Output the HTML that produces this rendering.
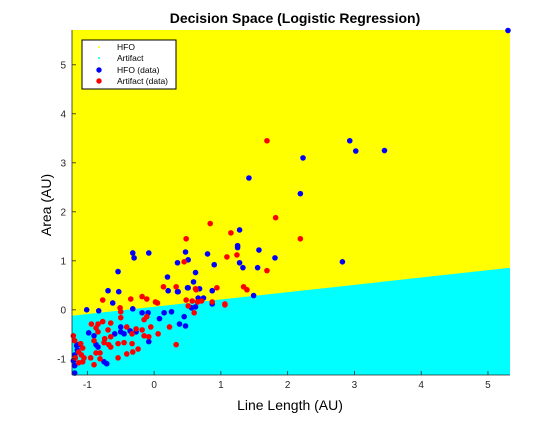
<!DOCTYPE html>
<html><head><meta charset="utf-8"><style>
body{margin:0;background:#fff;font-family:"Liberation Sans",sans-serif}
</style></head><body>
<svg id="chart" width="560" height="420" xmlns="http://www.w3.org/2000/svg">
<rect width="560" height="420" fill="#fff"/>
<text x="295" y="23" text-anchor="middle" font-size="14" font-weight="bold">Decision Space (Logistic Regression)</text>
<g id="plot"></g>
<g id="axes"></g>
<text x="290" y="410" text-anchor="middle" font-size="14">Line Length (AU)</text>
<text transform="translate(51,205) rotate(-90)" text-anchor="middle" font-size="14">Area (AU)</text>
<g>
<rect x="82" y="40" width="94" height="49" fill="#fff" stroke="#000" stroke-width="1"/>
<g><circle cx="99" cy="47" r="1" fill="#ff0"/><text x="117" y="50" font-size="8.5">HFO</text></g>
<g><circle cx="99" cy="58" r="1" fill="#0ff"/><text x="117" y="61" font-size="8.5">Artifact</text></g>
<g><circle cx="99" cy="70" r="2.7" fill="#00f"/><text x="117" y="73" font-size="8.5">HFO (data)</text></g>
<g><circle cx="99" cy="81" r="2.7" fill="#f00"/><text x="117" y="84" font-size="8.5">Artifact (data)</text></g>
</g>
</svg>
<script>
const xTicks=[-1,0,1,2,3,4,5];
const yTicks=[-1,0,1,2,3,4,5];
const xLim=[-1.23,5.33];
const yLim=[-1.33,5.71];
const boundaryIntercept=0.063;
const boundarySlope=0.149;
const hfoX=[5.3,2.93,3.02,3.45,2.23,1.42,2.19,1.28,1.25,1.25,1.57,0.47,0.8,0.51,0.35,0.9,1.28,1.33,1.55,1.81,2.82,0.62,0.59,0.5,0.68,0.35,0.87,1.49,0.66,0.74,0.87,-0.54,-0.32,-0.3,-0.08,-0.69,-0.53,-0.62,-1.01,-0.83,-0.32,-0.18,-0.09,0.08,0.15,0.26,0.38,0.47,0.45,0.56,0.62,0.2,0.21,0.36,0.51,-0.5,-0.59,-0.5,-0.36,-0.27,-0.08,-0.45,-0.98,-0.9,-0.84,-0.75,-0.71,-1.19,-1.21,-1.19,-1.19,-1.13,-1.16,-1.15,-0.87];
const hfoY=[5.7,3.45,3.24,3.25,3.1,2.69,2.37,1.63,1.31,1.27,1.22,1.18,1.14,1.02,0.96,0.92,0.96,0.86,0.86,1.06,0.98,0.76,0.57,0.45,0.43,0.37,0.39,0.29,0.24,0.24,0.12,0.78,1.16,1.06,1.16,0.39,0.37,0.14,0,-0.02,0.02,-0.06,-0.06,-0.18,-0.06,-0.04,-0.29,-0.33,-0.14,0.04,0.06,0.67,0.39,0.37,0.45,-0.35,-0.49,-0.45,-0.43,-0.45,-0.65,-0.49,-0.47,-0.53,-0.76,-1.06,-1.1,-0.92,-1.04,-1.14,-1.29,-0.71,-0.73,-0.82,-0.71];
const artX=[1.69,1.82,0.84,1.15,0.48,2.19,0.45,1.09,1.24,1.69,0.33,0.62,0.94,1.34,1.39,1.06,0.87,0.48,0.57,0.65,-0.77,-0.51,-0.5,-0.35,-0.18,-0.11,0.02,0.05,0.14,0.63,0.51,0.6,0.71,1.06,-0.94,-0.84,-0.77,-0.87,-0.84,-0.65,-0.69,-0.5,-0.41,-0.15,-0.11,-0.27,-0.18,-0.05,-0.33,-0.15,-0.08,0.06,0.23,0.33,-0.74,-0.9,-0.65,-0.68,-0.65,-0.75,-0.54,-0.45,-0.33,-0.24,-0.32,-0.41,-0.54,-0.81,-0.87,-0.95,-0.9,-0.81,-1.21,-1.19,-1.1,-1.07,-1.13,-1.09,-1.18,-1.07,-1.13,-1.05];
const artY=[3.45,1.88,1.76,1.57,1.45,1.45,0.98,1.08,1.12,0.8,0.47,0.43,0.45,0.47,0.41,0.12,0.16,0.2,0.18,0.16,0.2,0.04,-0.04,0.22,0.27,0.22,0.16,0.14,0.47,0.41,0.08,-0.06,0.18,0.1,-0.29,-0.29,-0.24,-0.37,-0.45,-0.27,-0.41,-0.16,-0.35,-0.2,-0.14,-0.39,-0.41,-0.35,-0.49,-0.53,-0.55,-0.49,-0.35,-0.71,-0.59,-0.63,-0.55,-0.71,-0.76,-0.67,-0.69,-0.67,-0.69,-0.8,-0.86,-0.9,-0.98,-0.88,-0.88,-0.98,-1.12,-1.0,-0.53,-0.63,-0.69,-0.78,-0.86,-0.92,-0.98,-1.06,-1.08,-0.98];
const L=72,R=510,T=30,B=375;
const sx=v=>L+(v-xLim[0])/(xLim[1]-xLim[0])*(R-L);
const sy=v=>B-(v-yLim[0])/(yLim[1]-yLim[0])*(B-T);
const NS='http://www.w3.org/2000/svg';
function mk(tag,attrs,parent){const e=document.createElementNS(NS,tag);for(const k in attrs)e.setAttribute(k,attrs[k]);parent.appendChild(e);return e;}
const plot=document.getElementById('plot');
const by0=boundaryIntercept+boundarySlope*xLim[0], by1=boundaryIntercept+boundarySlope*xLim[1];
const cyan=mk('rect',{x:L,y:T,width:R-L,height:B-T,fill:'#00ffff'},plot);


const yel=mk('polygon',{points:`${L},${T} ${R},${T} ${R},${sy(by1)} ${L},${sy(by0)}`,fill:'#ffff00'},plot);


for(let i=0;i<hfoX.length;i++){
 const c=mk('circle',{cx:sx(hfoX[i]),cy:sy(hfoY[i]),r:2.8,fill:'#0000ff'},plot);
 
 
}
for(let i=0;i<artX.length;i++){
 const c=mk('circle',{cx:sx(artX[i]),cy:sy(artY[i]),r:2.8,fill:'#ff0000'},plot);
 
 
}
const ax=document.getElementById('axes');
mk('line',{x1:L,y1:B,x2:R,y2:B,stroke:'#262626','stroke-width':0.8},ax);
mk('line',{x1:L,y1:T,x2:L,y2:B,stroke:'#262626','stroke-width':0.8},ax);
xTicks.forEach(t=>{const x=sx(t);
 mk('line',{x1:x,y1:B,x2:x,y2:B-4,stroke:'#262626','stroke-width':0.8},ax);
 const tx=mk('text',{x:x,y:B+13,'text-anchor':'middle','font-size':10,fill:'#262626'},ax);tx.textContent=t;
 
 
});
yTicks.forEach(t=>{const y=sy(t);
 mk('line',{x1:L,y1:y,x2:L+4,y2:y,stroke:'#262626','stroke-width':0.8},ax);
 const tx=mk('text',{x:L-6,y:y+3.5,'text-anchor':'end','font-size':10,fill:'#262626'},ax);tx.textContent=t;
 
 
});
</script>
</body></html>
